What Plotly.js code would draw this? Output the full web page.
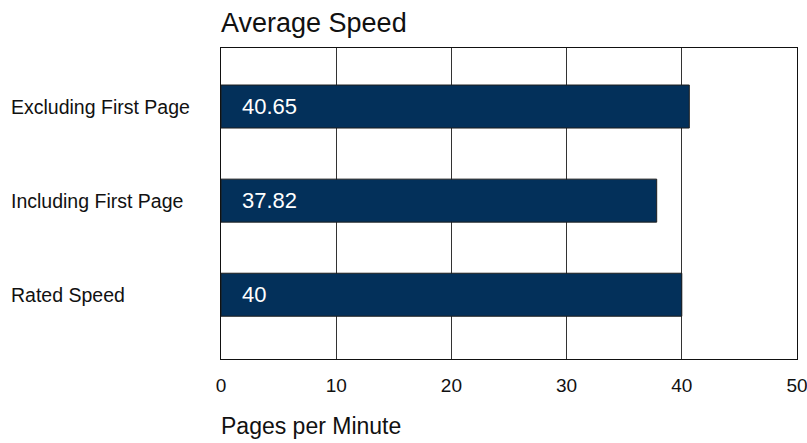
<!DOCTYPE html>
<html>
<head>
<meta charset="utf-8">
<script src="https://cdn.plot.ly/plotly-3.0.1.min.js"></script>
<style>html,body{margin:0;padding:0;background:#fff;}#chart{width:807px;height:443px;}</style>
</head>
<body>
<div id="chart"></div>
<script>
// Data (bottom to top)
const categories = ['Rated Speed', 'Including First Page', 'Excluding First Page'];
const values = [40, 37.82, 40.65];
const valueLabels = ['40', '37.82', '40.65'];
const xTicks = [0, 10, 20, 30, 40, 50];

const barColor = '#03305a';
const mainFont = "'Liberation Sans', Arial, Helvetica, sans-serif";

const trace = {
  type: 'bar',
  orientation: 'h',
  y: categories,
  x: values,
  width: 0.457,
  marker: {color: barColor, line: {color: '#1e1e1e', width: 1}},
  hoverinfo: 'none',
  showlegend: false
};

const annotations = [];
categories.forEach((c, i) => {
  annotations.push({
    xref: 'x', yref: 'y', x: 0, y: c,
    text: valueLabels[i], showarrow: false,
    xanchor: 'left', yanchor: 'middle', xshift: 19,
    font: {family: mainFont, size: 22, color: '#ffffff'}
  });
  annotations.push({
    xref: 'paper', yref: 'y', x: -0.368, y: c,
    text: c, showarrow: false,
    xanchor: 'left', yanchor: 'middle',
    font: {family: mainFont, size: 19.5, color: '#111111'}
  });
});
annotations.push({
  xref: 'paper', yref: 'paper', x: -0.003, y: -0.215,
  text: 'Pages per Minute', showarrow: false,
  xanchor: 'left', yanchor: 'middle',
  font: {family: mainFont, size: 23, color: '#111111'}
});

const layout = {
  width: 807, height: 443,
  margin: {l: 221, r: 10, t: 48, b: 84, pad: 0},
  paper_bgcolor: '#ffffff', plot_bgcolor: '#ffffff',
  title: {
    text: 'Average Speed',
    xref: 'paper', x: 0, xanchor: 'left',
    yref: 'container', y: 0.95, yanchor: 'middle',
    font: {family: mainFont, size: 27, color: '#111111'}
  },
  xaxis: {
    range: [0, 50],
    tickvals: xTicks,
    ticktext: xTicks.map(String),
    showgrid: true, gridcolor: '#333333', gridwidth: 1,
    zeroline: false,
    showline: true, linecolor: '#111111', linewidth: 1, mirror: true,
    ticks: '', ticklen: 0,
    ticklabelstandoff: 9,
    ticklabeloverflow: 'allow',
    tickfont: {family: mainFont, size: 19, color: '#111111'},
    fixedrange: true
  },
  yaxis: {
    type: 'category',
    categoryorder: 'array', categoryarray: categories,
    range: [-0.683, 2.622],
    showticklabels: false,
    showgrid: false, zeroline: false,
    showline: true, linecolor: '#111111', linewidth: 1, mirror: true,
    ticks: '',
    fixedrange: true
  },
  annotations: annotations
};

Plotly.newPlot('chart', [trace], layout, {displayModeBar: false, staticPlot: true});
</script>
</body>
</html>
